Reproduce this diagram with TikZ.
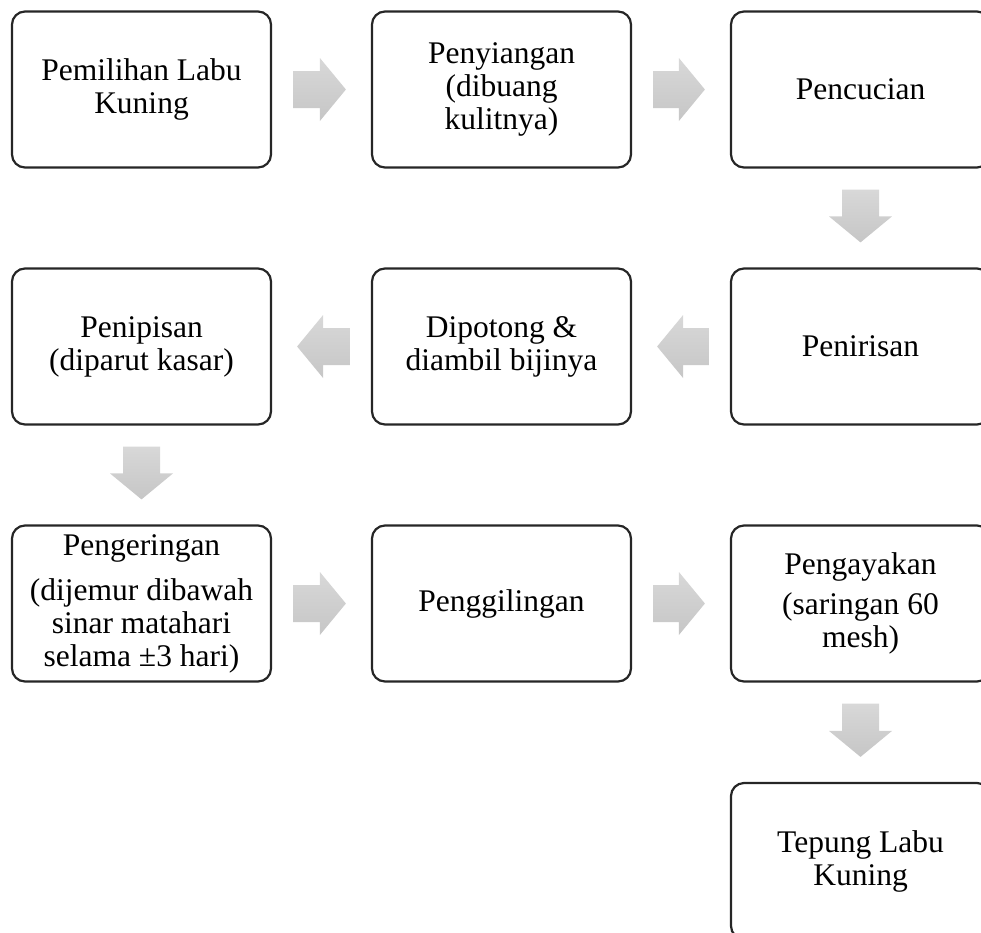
\documentclass[tikz,border=0pt]{standalone}
\usepackage{fontspec}
\setmainfont{Liberation Serif}
\usepackage{tikz}
\definecolor{arrowlight}{RGB}{216, 216, 216}
\definecolor{arrowdark}{RGB}{198, 198, 198}
\usetikzlibrary{calc, positioning}

\newcommand{\blockarrow}[2]{%
    \coordinate (bs) at ($(#1)!21pt!(#2)$);
    \coordinate (bt) at ($(#2)!25pt!(#1)$);
    \coordinate (bh) at ($(bt)!26pt!(bs)$);
    \shade[top color=arrowlight, bottom color=arrowdark]
        ($(bs)!18.5pt!90:(bt)$) -- ($(bh)!18.5pt!90:(bt)$) -- ($(bh)!31.5pt!90:(bt)$) -- (bt)
        -- ($(bh)!31.5pt!-90:(bt)$) -- ($(bh)!18.5pt!-90:(bt)$) -- ($(bs)!18.5pt!-90:(bt)$) -- cycle;
}

\begin{document}
\begin{tikzpicture}[x=1pt, y=-1pt,
    stepbox/.style={rectangle, draw=black!85, line width=2.2pt, rounded corners=13pt, minimum width=259pt, minimum height=156pt, inner sep=0pt, align=center, font=\fontsize{31.5}{33}\selectfont}
]
    \useasboundingbox (0,0) rectangle (981,932);

    \node[stepbox] (pilih) at (141.5, 89.5) {Pemilihan Labu\\Kuning};
    \node[stepbox] (siang) at (501.5, 89.5) {Penyiangan\\(dibuang\\kulitnya)};
    \node[stepbox] (cuci) at (860.5, 89.5) {Pencucian};

    \node[stepbox] (tiris) at (860.5, 346.5) {Penirisan};
    \node[stepbox] (potong) at (501.5, 346.5) {Dipotong \&\\diambil bijinya};
    \node[stepbox] (tipis) at (141.5, 346.5) {Penipisan\\(diparut kasar)};

    \node[stepbox] (kering) at (141.5, 603.5) {Pengeringan\\[12pt](dijemur dibawah\\sinar matahari\\selama ±3 hari)};
    \node[stepbox] (giling) at (501.5, 603.5) {Penggilingan};
    \node[stepbox] (ayak) at (860.5, 603.5) {Pengayakan\\[7pt](saringan 60\\mesh)};

    \node[stepbox] (tepung) at (860.5, 861) {Tepung Labu\\Kuning};

    \blockarrow{pilih.east}{siang.west}
    \blockarrow{siang.east}{cuci.west}
    \blockarrow{cuci.south}{tiris.north}
    \blockarrow{tiris.west}{potong.east}
    \blockarrow{potong.west}{tipis.east}
    \blockarrow{tipis.south}{kering.north}
    \blockarrow{kering.east}{giling.west}
    \blockarrow{giling.east}{ayak.west}
    \blockarrow{ayak.south}{tepung.north}
\end{tikzpicture}
\end{document}
